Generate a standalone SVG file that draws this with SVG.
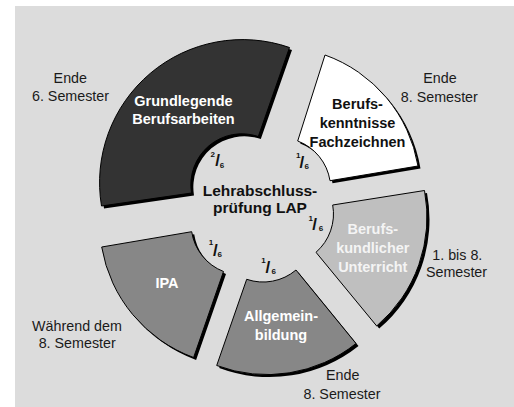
<svg xmlns="http://www.w3.org/2000/svg" xmlns:xlink="http://www.w3.org/1999/xlink" width="514" height="407" viewBox="0 0 514 407">
<style>
text{font-family:"Liberation Sans",Arial,sans-serif}
.lbl{font-size:14.5px;font-weight:bold;text-anchor:middle}
.ctr{font-size:15.5px;font-weight:bold;text-anchor:middle;fill:#111}
.out{font-size:14.3px;text-anchor:middle;fill:#1a1a1a}
.fr{font-weight:bold;fill:#111}
.d{font-size:8px}
.sl{font-size:17px}
.shadow{fill:#000}
.seg{stroke:#000;stroke-width:1;stroke-linejoin:miter}
.w{fill:#fff}
.k{fill:#111}
</style>
<defs>
<path id="p-dark" d="M191.5,193 L101.5,206 A143,143 0 0,1 289.5,47.5 L258.3,136.5 A51,51 0 0,0 191.5,193 Z"/>
<path id="p-white" d="M297.7,141 L325,55 A143,143 0 0,1 418,166 L330,180.7 A51,51 0 0,0 297.7,141 Z"/>
<path id="p-lg" d="M332.7,205 L424.5,190.5 A143,143 0 0,1 376.7,326 L316,252.3 A51,51 0 0,0 332.7,205 Z"/>
<path id="p-allg" d="M296,270 L356,343.5 A143,143 0 0,1 216.7,365.5 L246.7,279.3 A51,51 0 0,0 296,270 Z"/>
<path id="p-ipa" d="M223.5,271.5 L193.6,357.5 A143,143 0 0,1 101.7,247 L191.7,231.7 A51,51 0 0,0 223.5,271.5 Z"/>
</defs>
<rect x="15" y="6" width="499" height="401" fill="#dcdcdc"/>
<g id="connectors"/>
<g id="lap">
<text class="ctr" x="260" y="195.7">Lehrabschluss-</text>
<text class="ctr" x="260" y="213.3">prüfung LAP</text>
</g>
<g id="grundlegende">
<use xlink:href="#p-dark" class="shadow" transform="translate(2.5,2.5)"/>
<use xlink:href="#p-dark" class="seg" fill="#333333"/>
<text class="lbl w" x="183.5" y="106">Grundlegende</text>
<text class="lbl w" x="183.5" y="124.3">Berufsarbeiten</text>
<text class="fr"><tspan class="d" x="210.5" y="156.7">2</tspan><tspan class="sl" x="215.2" y="166">/</tspan><tspan class="d" x="219.8" y="167.7">6</tspan></text>
<text class="out" x="70.3" y="82.7">Ende</text>
<text class="out" x="70.5" y="100.7">6. Semester</text>
</g>
<g id="fachzeichnen">
<use xlink:href="#p-white" class="shadow" transform="translate(2.5,2.5)"/>
<use xlink:href="#p-white" class="seg" fill="#ffffff"/>
<text class="lbl k" x="357.5" y="109">Berufs-</text>
<text class="lbl k" x="357.5" y="128">kenntnisse</text>
<text class="lbl k" x="357.5" y="147">Fachzeichnen</text>
<text class="fr"><tspan class="d" x="296" y="158.3">1</tspan><tspan class="sl" x="299.6" y="168">/</tspan><tspan class="d" x="304.4" y="169.3">6</tspan></text>
<text class="out" x="440" y="83.3">Ende</text>
<text class="out" x="439.3" y="101.7">8. Semester</text>
</g>
<g id="berufskundlicher">
<use xlink:href="#p-lg" class="shadow" transform="translate(2.5,2.5)"/>
<use xlink:href="#p-lg" class="seg" fill="#bfbfbf"/>
<text class="lbl" fill="#f4f4f4" x="372.8" y="233.7">Berufs-</text>
<text class="lbl" fill="#f4f4f4" x="372.8" y="253">kundlicher</text>
<text class="lbl" fill="#f4f4f4" x="372.8" y="271.7">Unterricht</text>
<text class="fr"><tspan class="d" x="308.5" y="220.7">1</tspan><tspan class="sl" x="312.3" y="230">/</tspan><tspan class="d" x="318.7" y="230.7">6</tspan></text>
<text class="out" x="457.3" y="260">1. bis 8.</text>
<text class="out" x="456.5" y="277.3">Semester</text>
</g>
<g id="allgemeinbildung">
<use xlink:href="#p-allg" class="shadow" transform="translate(2.5,2.5)"/>
<use xlink:href="#p-allg" class="seg" fill="#878787"/>
<text class="lbl w" x="281" y="320.7">Allgemein-</text>
<text class="lbl w" x="281" y="340">bildung</text>
<text class="fr"><tspan class="d" x="261.2" y="263.3">1</tspan><tspan class="sl" x="265.6" y="273.3">/</tspan><tspan class="d" x="271.4" y="274">6</tspan></text>
<text class="out" x="342.7" y="380">Ende</text>
<text class="out" x="342" y="398.5">8. Semester</text>
</g>
<g id="ipa">
<use xlink:href="#p-ipa" class="shadow" transform="translate(2.5,2.5)"/>
<use xlink:href="#p-ipa" class="seg" fill="#878787"/>
<text class="lbl w" x="167" y="287.7">IPA</text>
<text class="fr"><tspan class="d" x="208.8" y="245">1</tspan><tspan class="sl" x="212.9" y="256">/</tspan><tspan class="d" x="217.4" y="256.7">6</tspan></text>
<text class="out" x="77" y="330.7">Während dem</text>
<text class="out" x="77.2" y="348.3">8. Semester</text>
</g>
</svg>
